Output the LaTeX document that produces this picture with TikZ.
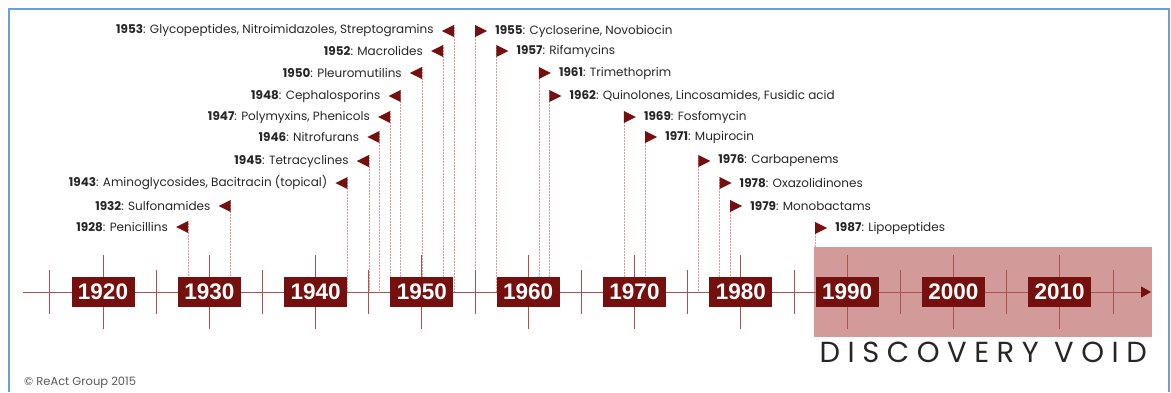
\documentclass[tikz,border=0pt]{standalone}
\usepackage{fontspec}
\setmainfont{Poppins}
\setsansfont{Liberation Sans}
\newfontfamily\voidfont{Poppins}[LetterSpace=26]
\usetikzlibrary{arrows.meta}
\definecolor{maroon}{RGB}{118,16,14}
\definecolor{tickred}{RGB}{172,80,80}
\definecolor{voidpink}{RGB}{210,155,153}
\definecolor{dotred}{RGB}{226,150,150}
\definecolor{frameblue}{RGB}{105,160,218}

\begin{document}
\begin{tikzpicture}[x=1pt,y=-1pt]
\tikzset{yearbox/.style={fill=maroon,text=white,minimum width=63pt,minimum height=30pt,inner sep=0pt,
    font=\sffamily\bfseries\fontsize{22.5}{23}\selectfont}}
\tikzset{evlabel/.style={font=\fontsize{12}{14}\selectfont,text=black!85,inner sep=0pt}}
\tikzset{flagline/.style={dotred,densely dotted,line width=0.5pt}}
\tikzset{tickline/.style={tickred,line width=0.9pt}}
\useasboundingbox (0,0) rectangle (1171,392);
\draw[frameblue,line width=1.6pt] (9,392) -- (9,9) -- (1169,9) -- (1169,392);
% discovery void
\node[fill=voidpink,minimum width=338pt,minimum height=90pt,inner sep=0pt,anchor=north west] (void) at (814,247) {};
\node[anchor=north,inner sep=0pt,yshift=-4pt,text=black!85,font=\voidfont\fontsize{29}{30}\selectfont] (voidtxt) at (void.south) {DISCOVERY VOID};
% events
\foreach \yr/\name/\row in {1928/Penicillins/227,1932/Sulfonamides/206,
    1943/{Aminoglycosides, Bacitracin (topical)}/183,1945/Tetracyclines/161,
    1946/Nitrofurans/137,1947/{Polymyxins, Phenicols}/117,1948/Cephalosporins/96,
    1950/Pleuromutilins/73,1952/Macrolides/51,
    1953/{Glycopeptides, Nitroimidazoles, Streptogramins}/31,
    1955/{Cycloserine, Novobiocin}/31,1957/Rifamycins/51,1961/Trimethoprim/73,
    1962/{Quinolones, Lincosamides, Fusidic acid}/96,1969/Fosfomycin/117,
    1971/Mupirocin/137,1976/Carbapenems/161,1978/Oxazolidinones/183,
    1979/Monobactams/206,1987/Lipopeptides/228}{
  \pgfmathsetmacro\xx{103+(\yr-1920)*10.63}
  \coordinate (top\yr) at (\xx,\row-6);
  \coordinate (base\yr) at (\xx,292);
  \draw[flagline] (top\yr) -- (base\yr);
  \ifnum\yr<1954
    \fill[maroon] (top\yr) -- (\xx-12,\row) -- (\xx,\row+6) -- cycle;
    \node[evlabel,anchor=east] (ev\yr) at (\xx-20,\row) {\textbf{\yr}: \name};
  \else
    \fill[maroon] (top\yr) -- (\xx+12,\row) -- (\xx,\row+6) -- cycle;
    \node[evlabel,anchor=west] (ev\yr) at (\xx+20,\row) {\textbf{\yr}: \name};
  \fi
}
% axis and ticks
\coordinate (axstart) at (23,292);
\coordinate (axend) at (1151,292);
\draw[tickline,-{Triangle[length=10pt,width=11pt,color=maroon]}] (axstart) -- (axend);
\foreach \yr in {1920,1930,...,2010}{
  \pgfmathsetmacro\xx{103+(\yr-1920)*10.63}
  \draw[tickline] (\xx,255) -- (\xx,329);
  \draw[tickline] (\xx-53.15,270) -- (\xx-53.15,314);
  \node[yearbox] (y\yr) at (\xx,292) {\yr};
}
\draw[tickline] (1113,270) -- (1113,314);
\node[anchor=west,inner sep=0pt,text=black!65,font=\fontsize{11.5}{13}\selectfont] (copy) at (24,383) {© ReAct Group 2015};
\end{tikzpicture}
\end{document}
